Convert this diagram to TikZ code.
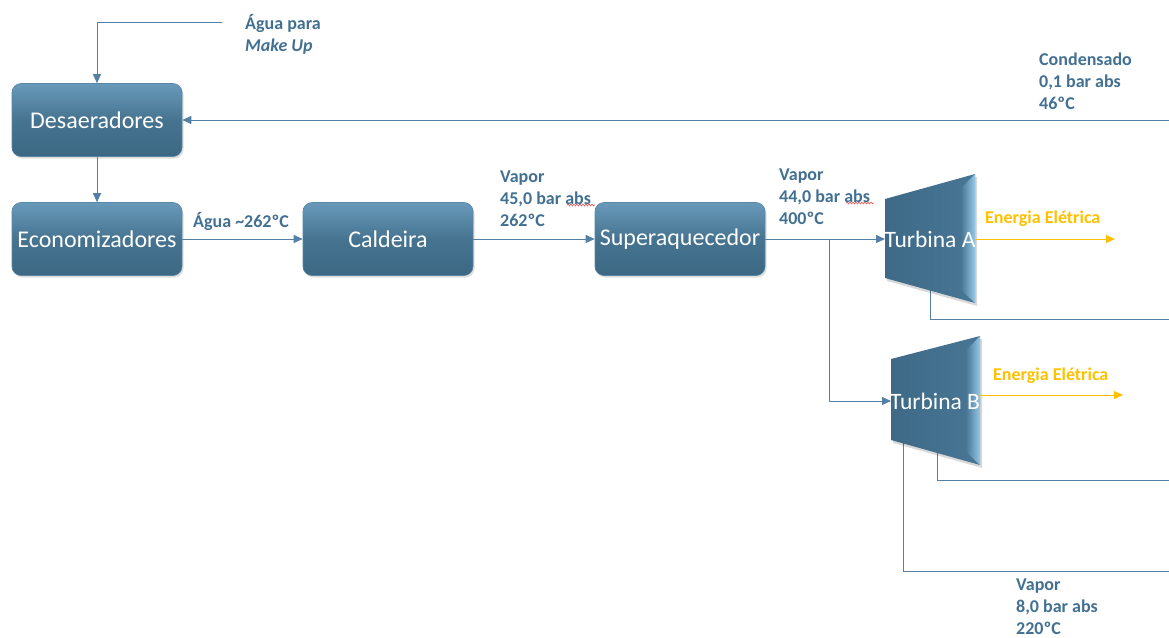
\documentclass[tikz,border=0pt]{standalone}
\usepackage{fontspec}
\setmainfont{Carlito}
\usetikzlibrary{arrows.meta,shadows,decorations.pathmorphing}
\definecolor{linec}{RGB}{84,128,165}
\definecolor{labc}{RGB}{66,112,146}
\definecolor{enc}{RGB}{255,192,0}
\definecolor{boxtop}{RGB}{104,154,186}
\definecolor{boxmid}{RGB}{70,116,144}
\definecolor{boxbot}{RGB}{60,104,131}
\definecolor{boxedge}{RGB}{88,135,165}
\definecolor{turbdark}{RGB}{62,106,135}
\definecolor{turbmid}{RGB}{72,118,148}
\definecolor{turblight}{RGB}{150,200,232}
\definecolor{spellred}{RGB}{230,90,90}
\begin{document}
\begin{tikzpicture}[x=1pt,y=-1pt,
  box/.style={rounded corners=9pt, minimum width=170pt, minimum height=73pt, inner sep=0pt,
    top color=boxtop, bottom color=boxbot, middle color=boxmid, draw=boxedge, line width=0.6pt,
    text=white, font=\fontsize{24}{28}\selectfont,
    drop shadow={opacity=0.25, shadow xshift=1.5pt, shadow yshift=-2pt}},
  tlabel/.style={inner sep=0pt, text=white, font=\fontsize{23.5}{28}\selectfont},
  lbl/.style={anchor=base west, align=left, inner sep=0pt, text=labc, font=\fontsize{18}{22}\selectfont\bfseries},
  flow/.style={draw=linec, line width=1pt, -{Triangle[length=9pt,width=8pt]}},
  pipe/.style={draw=linec, line width=1pt},
  energy/.style={draw=enc, line width=1pt, -{Triangle[length=9pt,width=8pt]}},
  elbl/.style={anchor=base west, inner sep=0pt, text=enc, font=\fontsize{18}{22}\selectfont\bfseries},
  turb/.style={left color=turbdark, right color=turbmid},
  bevel/.style={left color=turbmid, right color=turblight},
  spell/.style={draw=spellred, line width=0.6pt, decorate, decoration={snake, amplitude=1pt, segment length=3pt}}]

\useasboundingbox (0,0) rectangle (1169,637);

% boxes
\node[box] (des) at (97,120) {Desaeradores};
\node[box] (eco) at (97,239) {Economizadores};
\node[box] (cal) at (388,239) {Caldeira};
\node[box] (sup) at (680,239) {Superaquecedor};

% turbine coordinates
\coordinate (tAin) at (885,239);
\coordinate (tAout) at (975,239);
\coordinate (tAex) at (930,290);
\coordinate (tBin) at (891,401);
\coordinate (tBout) at (980,395);
\coordinate (tBex1) at (937,452);
\coordinate (tBex2) at (903,443);

% free ends
\coordinate (mu) at (222,22);
\coordinate (cond) at (1169,120);
\coordinate (br) at (829,239);
\coordinate (eA) at (1115,239);
\coordinate (eB) at (1123,395);
\coordinate (exA) at (1169,319);
\coordinate (exB1) at (1169,480);
\coordinate (exB2) at (1169,571);

% exhaust pipes (behind turbines)
\draw[pipe] (tAex) |- (exA);
\draw[pipe] (tBex1) |- (exB1);
\draw[pipe] (tBex2) |- (exB2);

% turbine A
\fill[black,opacity=0.15] (887,202) -- (977,177) -- (977,306) -- (887,281) -- cycle;
\shade[turb] (885,199) -- (975,174) -- (975,303) -- (885,278) -- cycle;
\shade[bevel] (961,188) -- (975,174) -- (975,303) -- (961,290) -- cycle;
\node[tlabel] (tA) at (930,239) {Turbina A};

% turbine B
\fill[black,opacity=0.15] (893,362) -- (982,339) -- (982,468) -- (893,443) -- cycle;
\shade[turb] (891,359) -- (980,336) -- (980,465) -- (891,440) -- cycle;
\shade[bevel] (966,350) -- (980,336) -- (980,465) -- (966,452) -- cycle;
\node[tlabel] (tB) at (935,401) {Turbina B};

% connectors
\draw[flow] (mu) -| (des.north);
\draw[flow] (cond) -- (des.east);
\draw[flow] (des) -- (eco);
\draw[flow] (eco) -- (cal);
\draw[flow] (cal) -- (sup);
\draw[flow] (sup) -- (tAin);
\draw[flow] (br) |- (tBin);
\draw[energy] (tAout) -- (eA);
\draw[energy] (tBout) -- (eB);

% labels (anchor = baseline of last line)
\node[lbl] (lmu) at (245,51.5) {Água para\\\textit{Make Up}};
\node[lbl] (lagua) at (193,227.5) {Água \textasciitilde262ºC};
\node[lbl] (lv45) at (500,226.5) {Vapor\\45,0 bar abs\\262ºC};
\node[lbl] (lv44) at (779,224.5) {Vapor\\44,0 bar abs\\400ºC};
\node[lbl] (lcond) at (1039,109) {Condensado\\0,1 bar abs\\46ºC};
\node[lbl] (lv8) at (1016,634) {Vapor\\8,0 bar abs\\220ºC};
\node[elbl] (leA) at (985,223) {Energia Elétrica};
\node[elbl] (leB) at (993,380) {Energia Elétrica};

% spell-check underlines
\draw[spell] (567,205) -- (595,205);
\draw[spell] (846,203) -- (874,203);
\end{tikzpicture}
\end{document}
